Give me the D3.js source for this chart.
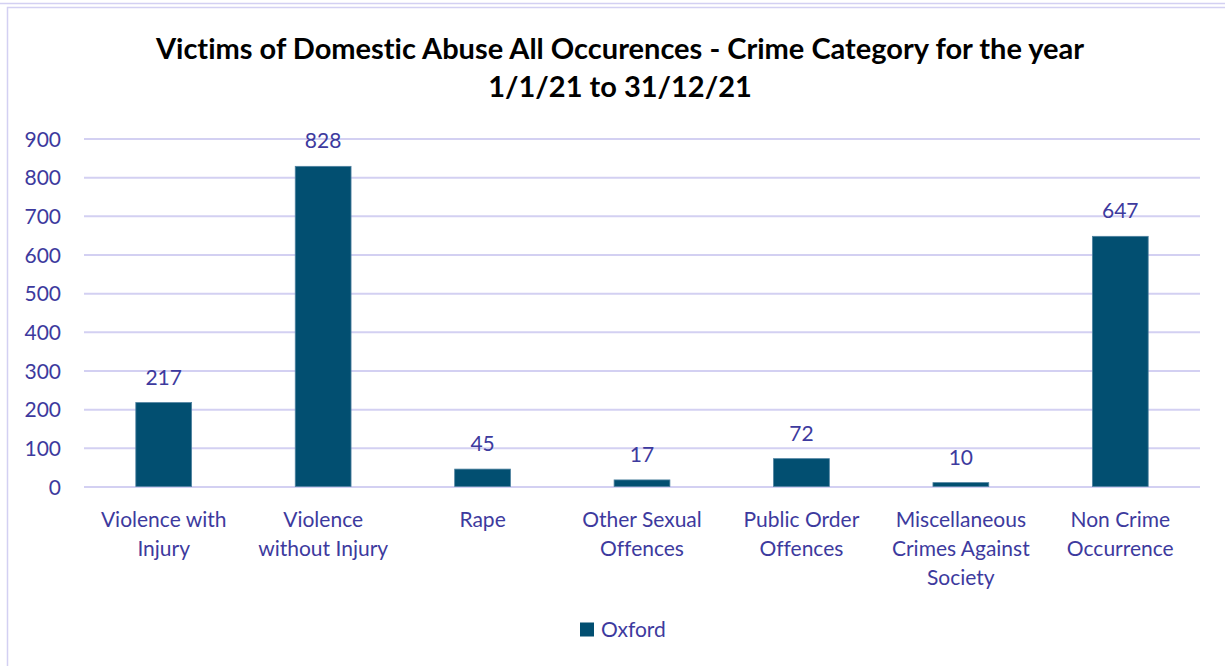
<!DOCTYPE html>
<html>
<head>
<meta charset="utf-8">
<script src="https://cdn.jsdelivr.net/npm/d3@7"></script>
<style>
  html, body { margin: 0; padding: 0; background: #fff; }
  svg { display: block; }
  text { font-variant-ligatures: none; }
</style>
</head>
<body>
<svg id="chart" width="1225" height="666"></svg>
<script>
// Crime category counts for Oxford, 2021
const categories = [
  ["Violence with", "Injury"],
  ["Violence", "without Injury"],
  ["Rape"],
  ["Other Sexual", "Offences"],
  ["Public Order", "Offences"],
  ["Miscellaneous", "Crimes Against", "Society"],
  ["Non Crime", "Occurrence"]
];
const values = [217, 828, 45, 17, 72, 10, 647];
const yTicks = [0, 100, 200, 300, 400, 500, 600, 700, 800, 900];
const seriesName = "Oxford";
const titleLines = [
  "Victims of Domestic Abuse All Occurences - Crime Category for the year",
  "1/1/21 to 31/12/21"
];

const W = 1225, H = 666;
const font = "Lato, 'Open Sans', sans-serif";
const textColor = "#3d3a9e";
const gridColor = "#d3d0f2";
const barColor = "#024f71";
const fs = 21;

const svg = d3.select("#chart");

// outer frame
svg.append("line").attr("x1", 0).attr("x2", W).attr("y1", 3.5).attr("y2", 3.5)
  .attr("stroke", gridColor).attr("stroke-width", 1.5);
svg.append("rect").attr("x", 7.5).attr("y", 7.5).attr("width", W + 20).attr("height", H + 20)
  .attr("fill", "none").attr("stroke", gridColor).attr("stroke-width", 1.5);

const margin = { left: 84, right: 25, top: 138.5, bottom: 179.5 };
const x = d3.scaleBand()
  .domain(d3.range(categories.length))
  .range([margin.left, W - margin.right])
  .paddingInner(0.65).paddingOuter(0.325);
const y = d3.scaleLinear().domain([0, 900]).range([H - margin.bottom, margin.top]);

// gridlines and y labels
const yAxis = d3.axisLeft(y).tickValues(yTicks).tickSize(-(W - margin.right - margin.left)).tickPadding(23);
const gy = svg.append("g").attr("transform", `translate(${margin.left},0)`).call(yAxis);
gy.select(".domain").remove();
gy.selectAll(".tick line").attr("stroke", gridColor).attr("stroke-width", 2);
gy.selectAll(".tick text").attr("fill", textColor).attr("font-family", font)
  .attr("font-size", fs).attr("dy", "0.36em");

// bars
svg.append("g").selectAll("rect").data(values).join("rect")
  .attr("x", (d, i) => x(i))
  .attr("y", d => y(d))
  .attr("width", x.bandwidth())
  .attr("height", d => y(0) - y(d))
  .attr("fill", barColor)
  .attr("stroke", "#4f82a0").attr("stroke-width", 0.8);

// value labels
svg.append("g").selectAll("text").data(values).join("text")
  .attr("x", (d, i) => x(i) + x.bandwidth() / 2)
  .attr("y", d => y(d) - 18)
  .attr("text-anchor", "middle")
  .attr("fill", textColor).attr("font-family", font).attr("font-size", fs)
  .text(d => d);

// category labels
const gx = svg.append("g");
categories.forEach((lines, i) => {
  const t = gx.append("text")
    .attr("x", x(i) + x.bandwidth() / 2)
    .attr("y", 527)
    .attr("text-anchor", "middle")
    .attr("fill", textColor).attr("font-family", font).attr("font-size", fs);
  lines.forEach((ln, j) => {
    t.append("tspan").attr("x", x(i) + x.bandwidth() / 2).attr("dy", j === 0 ? 0 : 28.8).text(ln);
  });
});

// title
svg.append("g").selectAll("text").data(titleLines).join("text")
  .attr("x", 620)
  .attr("y", (d, i) => 59 + i * 38)
  .attr("text-anchor", "middle")
  .attr("fill", "#000").attr("font-family", font).attr("font-weight", "bold").attr("font-size", 29)
  .text(d => d);

// legend
const lg = svg.append("g");
lg.append("rect").attr("x", 580).attr("y", 622.5).attr("width", 14).attr("height", 14).attr("fill", barColor);
lg.append("text").attr("x", 601).attr("y", 637).attr("fill", textColor)
  .attr("font-family", font).attr("font-size", fs).text(seriesName);
</script>
</body>
</html>
